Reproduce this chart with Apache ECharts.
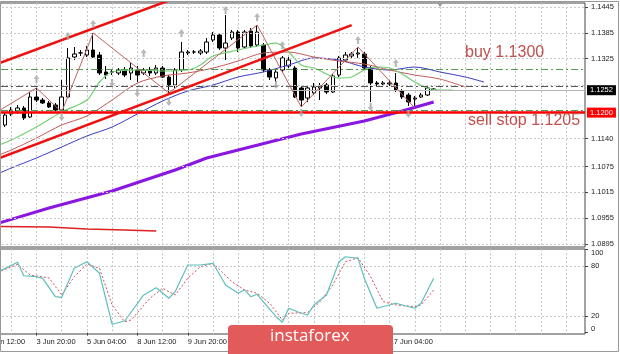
<!DOCTYPE html>
<html>
<head>
<meta charset="utf-8">
<script src="https://cdn.jsdelivr.net/npm/echarts@6.0.0/dist/echarts.min.js"></script>
<style>
  html, body { margin: 0; padding: 0; background: #fff; }
  #chart { width: 620px; height: 354px; }
</style>
</head>
<body>
<div id="chart"></div>
<script>
// EURUSD H4, 2 Jun - 17 Jun (MT4 screenshot)
const slotCount = 96;   // bar slots incl. the empty chart shift on the right
const firstBar = 3;     // first candle (3 Jun 00:00) sits in slot 3
const timeLabels = ['2 Jun 12:00', '3 Jun 20:00', '5 Jun 04:00', '8 Jun 12:00', '9 Jun 20:00',
  '11 Jun 04:00', '12 Jun 12:00', '15 Jun 20:00', '17 Jun 04:00'];
const priceTicks = [1.0895, 1.0955, 1.1015, 1.1075, 1.1140, 1.1325, 1.1385, 1.1445];
const priceGrid = [1.0895, 1.0955, 1.1015, 1.1075, 1.1140, 1.1202, 1.1263, 1.1325, 1.1385, 1.1445];
const stochTicks = [0, 20, 80, 100];
const stochLevels = [20, 80];

// [open, close, low, high]
const candles = [
  [1.11712, 1.11944, 1.11666, 1.11991],
  [1.11968, 1.12060, 1.11921, 1.12130],
  [1.12014, 1.12107, 1.11968, 1.12176],
  [1.12107, 1.11875, 1.11828, 1.12153],
  [1.11898, 1.12362, 1.11875, 1.12478],
  [1.12362, 1.12292, 1.12246, 1.12571],
  [1.12292, 1.12223, 1.12200, 1.12339],
  [1.12223, 1.12130, 1.12107, 1.12269],
  [1.12176, 1.12060, 1.12037, 1.12223],
  [1.12060, 1.12362, 1.12014, 1.12756],
  [1.12362, 1.13267, 1.12339, 1.13499],
  [1.13290, 1.13360, 1.13220, 1.13522],
  [1.13383, 1.13386, 1.13313, 1.13452],
  [1.13336, 1.13452, 1.13290, 1.13545],
  [1.13452, 1.13290, 1.13267, 1.13847],
  [1.13336, 1.12919, 1.12872, 1.13406],
  [1.12942, 1.12872, 1.12780, 1.13081],
  [1.12942, 1.12945, 1.12872, 1.13011],
  [1.12919, 1.12988, 1.12872, 1.13034],
  [1.12988, 1.12872, 1.12826, 1.13058],
  [1.12919, 1.13034, 1.12756, 1.13151],
  [1.12988, 1.12872, 1.12710, 1.13081],
  [1.12919, 1.12988, 1.12872, 1.13034],
  [1.12988, 1.12919, 1.12849, 1.13058],
  [1.12919, 1.13034, 1.12872, 1.13104],
  [1.13034, 1.12826, 1.12803, 1.13081],
  [1.12826, 1.12640, 1.12455, 1.12872],
  [1.12640, 1.12988, 1.12571, 1.13034],
  [1.12988, 1.13406, 1.12942, 1.13638],
  [1.13383, 1.13406, 1.13336, 1.13452],
  [1.13406, 1.13409, 1.13360, 1.13452],
  [1.13383, 1.13429, 1.13336, 1.13476],
  [1.13406, 1.13638, 1.13360, 1.13731],
  [1.13684, 1.13800, 1.13638, 1.13870],
  [1.13800, 1.13499, 1.13452, 1.13847],
  [1.13499, 1.13614, 1.13220, 1.14264],
  [1.13731, 1.13870, 1.13684, 1.13916],
  [1.13870, 1.13499, 1.13406, 1.13916],
  [1.13522, 1.13870, 1.13476, 1.13916],
  [1.13893, 1.13545, 1.13499, 1.13963],
  [1.13568, 1.13870, 1.13522, 1.14032],
  [1.13568, 1.12988, 1.12942, 1.13614],
  [1.12988, 1.12826, 1.12756, 1.13034],
  [1.12803, 1.12942, 1.12710, 1.12988],
  [1.12988, 1.13267, 1.12942, 1.13313],
  [1.13081, 1.13220, 1.13034, 1.13290],
  [1.13034, 1.12362, 1.12339, 1.13081],
  [1.12571, 1.12292, 1.12130, 1.12617],
  [1.12339, 1.12571, 1.12246, 1.12617],
  [1.12455, 1.12594, 1.12408, 1.12687],
  [1.12571, 1.12617, 1.12292, 1.12687],
  [1.12640, 1.12478, 1.12432, 1.12687],
  [1.12478, 1.12849, 1.12455, 1.12896],
  [1.12872, 1.13267, 1.12826, 1.13313],
  [1.13220, 1.13336, 1.13174, 1.13406],
  [1.13313, 1.13360, 1.13267, 1.13406],
  [1.13360, 1.13383, 1.13267, 1.13522],
  [1.13360, 1.13034, 1.12988, 1.13406],
  [1.13034, 1.12687, 1.12246, 1.13081],
  [1.12687, 1.12664, 1.12617, 1.12733],
  [1.12664, 1.12687, 1.12594, 1.12733],
  [1.12664, 1.12687, 1.12617, 1.12756],
  [1.12687, 1.12524, 1.12478, 1.12919],
  [1.12501, 1.12362, 1.12316, 1.12548],
  [1.12408, 1.12246, 1.12153, 1.12455],
  [1.12316, 1.12339, 1.12107, 1.12385],
  [1.12362, 1.12408, 1.12339, 1.12455],
  [1.12408, 1.12571, 1.12385, 1.12617],
  [1.12548, 1.12524, 1.12501, 1.12571]
];

// moving averages, [slot, price]
const maPurple = [[0, 1.09346], [10, 1.09787], [20, 1.10181], [30, 1.10668], [35, 1.10947], [40, 1.11132],
  [50, 1.11504], [60, 1.11805], [66, 1.12037], [71, 1.12246]];
const maBlue = [[0, 1.10459], [4, 1.10714], [8, 1.10947], [12, 1.11202], [16, 1.11457], [20, 1.11666],
  [24, 1.11968], [28, 1.12269], [32, 1.12501], [36, 1.12640], [40, 1.12826], [44, 1.12942], [48, 1.13104],
  [52, 1.13267], [56, 1.13220], [60, 1.13058], [64, 1.12988], [68, 1.13058], [72, 1.12942], [76, 1.12826],
  [79, 1.12710]];
const maBrown = [[0, 1.10900], [4, 1.11132], [8, 1.11410], [12, 1.11712], [16, 1.11921], [20, 1.12292],
  [24, 1.12686], [28, 1.12849], [32, 1.12919], [36, 1.13034], [40, 1.13197], [44, 1.13383], [48, 1.13406],
  [52, 1.13290], [56, 1.13197], [60, 1.13127], [64, 1.12988], [68, 1.12872], [72, 1.12779], [76, 1.12594]];
const maGreen = [[0, 1.11132], [4, 1.11364], [8, 1.11666], [12, 1.12014], [16, 1.12292], [18, 1.12710],
  [20, 1.12942], [24, 1.12988], [28, 1.12965], [32, 1.12988], [34, 1.13104], [36, 1.13313], [40, 1.13452],
  [44, 1.13568], [46, 1.13614], [48, 1.13406], [50, 1.13104], [52, 1.13034], [56, 1.12802], [58, 1.12826],
  [60, 1.12988], [62, 1.13058], [64, 1.13034], [66, 1.12895], [68, 1.12710], [70, 1.12571], [72, 1.12524],
  [74, 1.12524]];

// drawn objects
const channelTop = [[0, 1.13033], [30, 1.14654]];
const channelBottom = [[0, 1.10826], [58, 1.14030]];
const oldLine = [[0, 1.09358], [10, 1.09346], [16, 1.09299], [22, 1.09276], [27, 1.09253]];
const zigzag = [[2, 1.12037], [8, 1.12571], [12, 1.12014], [17, 1.13847], [29, 1.12455], [43, 1.14032],
  [50, 1.12130], [59, 1.13522], [68, 1.12107]];
const fractalsUp = [[8, 1.12780], [13, 1.13777], [17, 1.14055], [25, 1.13383], [31, 1.13847], [38, 1.14380],
  [43, 1.14218], [47, 1.13568], [59, 1.13684], [65, 1.13151]];
const fractalsDown = [[12, 1.11898], [20, 1.12687], [24, 1.12455], [29, 1.12246], [46, 1.12640],
  [50, 1.11991], [61, 1.12130], [67, 1.11968]];

// levels
const buyLevel = 1.1300;
const sellStopLevel = 1.1205;
const pivotLevel = 1.1260;
const bidPrice = 1.1252;
const supportLevel = 1.1200;

// stochastic
const stochMain = [[0, 70.0], [2, 73.2], [5, 84.5], [6, 68.4], [8, 67.2], [9, 65.3], [11, 43.2], [12, 42.5],
  [14, 77.3], [16, 85.2], [18, 71.3], [20, 10.1], [22, 14.0], [25, 45.3], [27, 54.0], [29, 41.3], [30, 49.2],
  [32, 81.3], [34, 81.3], [36, 83.3], [38, 57.3], [40, 47.3], [41, 51.3], [42, 43.2], [43, 46.1], [46, 19.2],
  [47, 12.5], [48, 29.3], [50, 23.3], [51, 21.2], [52, 33.3], [54, 45.3], [56, 85.2], [57, 91.2], [59, 89.3],
  [60, 65.3], [62, 29.3], [65, 35.3], [68, 29.3], [69, 35.3], [71, 65.3]];
const stochSignal = [[0, 68.0], [2, 72.9], [5, 82.1], [7, 69.3], [10, 65.7], [12, 45.3], [14, 67.2], [16, 82.5],
  [18, 77.3], [20, 33.3], [22, 13.2], [23, 15.2], [26, 41.3], [28, 53.3], [30, 45.3], [32, 65.3], [34, 79.2],
  [36, 83.3], [39, 61.2], [41, 51.3], [43, 47.3], [45, 35.3], [47, 15.2], [48, 23.3], [51, 24.2], [53, 37.2],
  [55, 57.3], [57, 85.2], [59, 90.0], [61, 67.2], [63, 37.2], [65, 33.3], [68, 31.2], [69, 33.3], [71, 51.3]];

const slots = [];
for (let i = 0; i < slotCount; i++) slots.push(i);
const candleData = [];
for (let i = 0; i < firstBar; i++) candleData.push('-');
candles.forEach(c => candleData.push(c));

const chart = echarts.init(document.getElementById('chart'), null, { renderer: 'canvas' });

const labelFont = { fontSize: 7.5, color: '#222', fontFamily: 'Liberation Sans' };
const gridDots = { color: '#c8c8c8', width: 1, type: [2, 2] };
const upArrow = 'path://M4,0 L8,5 L5.5,5 L5.5,10 L2.5,10 L2.5,5 L0,5 Z';
const downArrow = 'path://M2.5,0 L5.5,0 L5.5,5 L8,5 L4,10 L0,5 L2.5,5 Z';

function line(name, data, color, width, z, extra) {
  return Object.assign({
    name: name, type: 'line', xAxisIndex: 0, yAxisIndex: 0, data: data,
    showSymbol: false, symbol: 'none', silent: true, z: z,
    lineStyle: { color: color, width: width }
  }, extra || {});
}

// one horizontal level as its own series (precision: markLine rounds to 2 decimals otherwise)
function level(name, value, style, tag, tagColor) {
  const ml = {
    silent: true, symbol: 'none', precision: 6, lineStyle: style,
    label: { show: false },
    data: [{ yAxis: value }]
  };
  if (tag) {
    ml.label = Object.assign({ show: true, position: 'end', distance: 2, formatter: value.toFixed(4),
      backgroundColor: tagColor, padding: [1, 3] }, labelFont, { color: '#fff' });
  }
  return line(name, [], style.color, 1, 6, { markLine: ml });
}

const option = {
  animation: false,
  backgroundColor: '#fff',
  textStyle: { fontFamily: 'Liberation Sans' },
  grid: [
    { left: -14, right: 35, top: 3, bottom: 107, show: true, borderColor: '#444', borderWidth: 1,
      backgroundColor: 'transparent', outerBoundsMode: 'none' },
    { left: -14, right: 35, top: 249, bottom: 20, show: true, borderColor: '#444', borderWidth: 1,
      backgroundColor: 'transparent', outerBoundsMode: 'none' }
  ],
  xAxis: [
    {
      type: 'category', gridIndex: 0, data: slots, boundaryGap: false,
      axisLine: { show: false }, axisTick: { show: false }, axisLabel: { show: false },
      splitLine: { show: true, interval: (i) => i % 4 === 0, lineStyle: gridDots }
    },
    {
      type: 'category', gridIndex: 1, data: slots, boundaryGap: false,
      axisLine: { show: false },
      axisTick: { show: true, interval: (i) => i % 8 === 0 && i / 8 < timeLabels.length, length: 3,
        lineStyle: { color: '#444' } },
      axisLabel: Object.assign({
        interval: (i) => i % 8 === 0 && i / 8 < timeLabels.length,
        formatter: (v, i) => timeLabels[i / 8] || '',
        align: 'left', margin: 4
      }, labelFont),
      splitLine: { show: true, interval: (i) => i % 4 === 0, lineStyle: gridDots }
    }
  ],
  yAxis: [
    {
      type: 'value', gridIndex: 0, position: 'right', min: 1.08882, max: 1.14543,
      axisLine: { show: false }, splitLine: { show: false },
      axisTick: { show: true, customValues: priceTicks, length: 3, lineStyle: { color: '#444' } },
      axisLabel: Object.assign({ customValues: priceTicks, formatter: (v) => v.toFixed(4), margin: 6 }, labelFont)
    },
    {
      type: 'value', gridIndex: 1, position: 'right', min: -1.6, max: 100.5,
      axisLine: { show: false }, splitLine: { show: false },
      axisTick: { show: true, customValues: stochTicks, length: 3, lineStyle: { color: '#444' } },
      axisLabel: Object.assign({ customValues: stochTicks, margin: 6,
        verticalAlignMinLabel: 'bottom', verticalAlignMaxLabel: 'top' }, labelFont)
    }
  ],
  series: [
    // price grid
    line('grid', [], '#c8c8c8', 1, 1, {
      markLine: { silent: true, symbol: 'none', precision: 6, label: { show: false }, lineStyle: gridDots,
        data: priceGrid.map(v => ({ yAxis: v })) }
    }),
    level('buy', buyLevel, { color: '#4f9a4f', width: 1, type: [7, 3, 2, 3] }),
    level('pivot', pivotLevel, { color: '#555', width: 1, type: [7, 3, 2, 3] }),
    level('sell stop', sellStopLevel, { color: '#4f9a4f', width: 1, type: [7, 3, 2, 3] }),
    level('bid', bidPrice, { color: '#b4b4b4', width: 1, type: 'solid' }, true, '#000'),
    level('support', supportLevel, { color: '#ff0000', width: 2.5, type: 'solid' }, true, '#ff0000'),
    line('ma purple', maPurple, '#8a16e0', 3, 4),
    line('ma blue', maBlue, '#3a3ac4', 1, 4, { smooth: 0.3 }),
    line('ma brown', maBrown, '#c25a5a', 1, 4, { smooth: 0.3 }),
    line('ma green', maGreen, '#72d072', 1.2, 4, { smooth: 0.3 }),
    line('old line', oldLine, '#dd2020', 1.5, 5),
    line('zigzag', zigzag, '#bd6262', 1, 5),
    {
      name: 'EURUSD', type: 'candlestick', xAxisIndex: 0, yAxisIndex: 0, data: candleData,
      barWidth: 4, silent: true, z: 3,
      itemStyle: { color: '#fff', color0: '#000', borderColor: '#000', borderColor0: '#000', borderWidth: 1 }
    },
    line('channel top', channelTop, '#ee1111', 2.5, 6),
    line('channel bottom', channelBottom, '#ee1111', 2.5, 6),
    {
      name: 'fractal up', type: 'scatter', xAxisIndex: 0, yAxisIndex: 0, data: fractalsUp,
      symbol: upArrow, symbolSize: [6, 8], silent: true, z: 6, itemStyle: { color: '#a8a8a8' }
    },
    {
      name: 'fractal down', type: 'scatter', xAxisIndex: 0, yAxisIndex: 0, data: fractalsDown,
      symbol: downArrow, symbolSize: [6, 8], silent: true, z: 6, itemStyle: { color: '#a8a8a8' }
    },
    // stochastic
    {
      name: 'levels', type: 'line', xAxisIndex: 1, yAxisIndex: 1, data: [], silent: true, z: 1,
      markLine: { silent: true, symbol: 'none', precision: 6, label: { show: false }, lineStyle: gridDots,
        data: stochLevels.map(v => ({ yAxis: v })) }
    },
    {
      name: 'signal', type: 'line', xAxisIndex: 1, yAxisIndex: 1, data: stochSignal,
      showSymbol: false, symbol: 'none', silent: true, z: 3,
      lineStyle: { color: '#d0505e', width: 1, type: [2, 2] }
    },
    {
      name: 'main', type: 'line', xAxisIndex: 1, yAxisIndex: 1, data: stochMain,
      showSymbol: false, symbol: 'none', silent: true, z: 4,
      lineStyle: { color: '#5cc0bd', width: 1.2 }
    }
  ],
  graphic: [
    { type: 'text', left: 465, top: 45, silent: true, z: 10,
      style: { text: 'buy 1.1300', fill: '#c0504d', font: '16px "Liberation Sans"' } },
    { type: 'text', left: 468, top: 113, silent: true, z: 10,
      style: { text: 'sell stop 1.1205', fill: '#c0504d', font: '16px "Liberation Sans"' } },
    { type: 'polygon', silent: true, z: 10,
      shape: { points: [[437, 3], [443, 3], [440, 7]] }, style: { fill: '#999' } },
    { type: 'rect', silent: true, z: 20,
      shape: { x: 228, y: 325, width: 165, height: 40, r: 4 }, style: { fill: '#e25a5a' } },
    { type: 'text', left: 270, top: 328, silent: true, z: 21,
      style: { text: 'instaforex', fill: '#fff', font: '17px "Open Sans"' } },
    { type: 'rect', silent: true, z: 9,
      shape: { x: 0.5, y: 1.5, width: 618, height: 350 }, style: { fill: 'none', stroke: '#999', lineWidth: 1 } }
  ]
};

chart.setOption(option);
</script>
</body>
</html>
